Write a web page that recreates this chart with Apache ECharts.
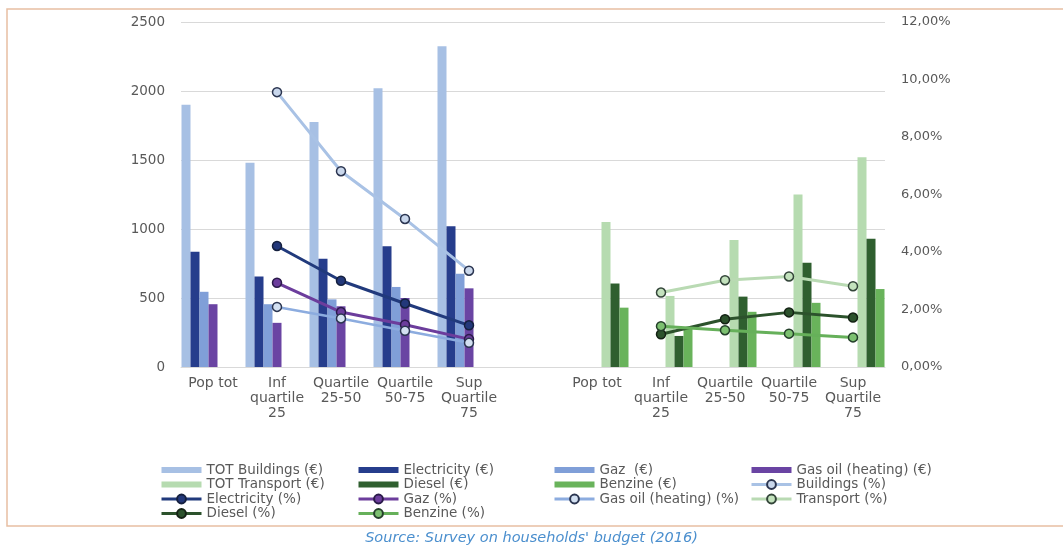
<!DOCTYPE html>
<html>
<head>
<meta charset="utf-8">
<script src="https://cdn.jsdelivr.net/npm/echarts@6/dist/echarts.min.js"></script>
<style>
html,body{margin:0;padding:0;background:#fff;}
#chart{width:1063px;height:551px;}
</style>
</head>
<body>
<div id="chart"></div>
<script>
// ---- Data ----
const groupLabels = ['Pop tot', 'Inf\nquartile\n25', 'Quartile\n25-50', 'Quartile\n50-75', 'Sup\nQuartile\n75'];
const leftTicks = [0, 500, 1000, 1500, 2000, 2500];
const rightTicks = ['0,00%', '2,00%', '4,00%', '6,00%', '8,00%', '10,00%', '12,00%'];

// Buildings group (€)
const totBuildings = [1900, 1480, 1775, 2020, 2325];
const electricityEur = [835, 655, 785, 875, 1020];
const gazEur = [545, 455, 490, 580, 675];
const gasOilEur = [455, 320, 440, 500, 570];
// Transport group (€)
const totTransport = [1050, 515, 920, 1250, 1520];
const dieselEur = [605, 225, 510, 755, 930];
const benzineEur = [430, 280, 400, 465, 565];
// Buildings group (%)
const buildingsPct = [null, 9.56, 6.81, 5.15, 3.35];
const electricityPct = [null, 4.21, 3.00, 2.21, 1.45];
const gazPct = [null, 2.93, 1.91, 1.47, 0.97];
const gasOilPct = [null, 2.09, 1.69, 1.26, 0.84];
// Transport group (%)
const transportPct = [null, 2.59, 3.02, 3.15, 2.81];
const dieselPct = [null, 1.14, 1.66, 1.90, 1.72];
const benzinePct = [null, 1.42, 1.28, 1.16, 1.03];

// ---- Build category axis: buildings group, empty gap, transport group ----
const categories = groupLabels.concat([''], groupLabels);
const gapNulls = [null, null, null, null, null, null];
const left = arr => arr.concat(gapNulls);
const right = arr => gapNulls.concat(arr);

const FONT = 'DejaVu Sans';
const TXT = '#595959';

function bar(name, data, color) {
  return { name, type: 'bar', data, barWidth: 9, barGap: '0%', itemStyle: { color }, z: 2 };
}
function line(name, data, color, fill, border, width) {
  return {
    name, type: 'line', yAxisIndex: 1, data, z: 5,
    symbol: 'circle', symbolSize: 9,
    lineStyle: { color, width },
    itemStyle: { color: fill, borderColor: border, borderWidth: 1.5 }
  };
}

const series = [
  bar('TOT Buildings (€)', left(totBuildings), '#a7c0e4'),
  bar('Electricity (€)', left(electricityEur), '#263d8c'),
  bar('Gaz  (€)', left(gazEur), '#809fd8'),
  bar('Gas oil (heating) (€)', left(gasOilEur), '#6a44a3'),
  bar('TOT Transport (€)', right(totTransport), '#b6dbb0'),
  bar('Diesel (€)', right(dieselEur), '#2f5f2f'),
  bar('Benzine (€)', right(benzineEur), '#69b35b'),
  line('Buildings (%)', left(buildingsPct), '#a9c2e5', '#c9d7ec', '#2b3550', 3),
  line('Electricity (%)', left(electricityPct), '#213a7c', '#23387a', '#15203f', 3),
  line('Gaz (%)', left(gazPct), '#6c3d9c', '#6c3d9c', '#2a1a4a', 3),
  line('Gas oil (heating) (%)', left(gasOilPct), '#8cacdf', '#d3e0f1', '#2b3550', 2.5),
  line('Transport (%)', right(transportPct), '#b9dab3', '#c3e2bd', '#34463a', 3),
  line('Diesel (%)', right(dieselPct), '#2c522c', '#2c522c', '#142214', 3),
  line('Benzine (%)', right(benzinePct), '#66b05a', '#7cc070', '#24402a', 3)
];

const barIcon = 'path://M0,0h40v6h-40z';
function legendCol(leftPx, items) {
  return {
    orient: 'vertical', left: leftPx, top: 463, itemGap: 0.5, padding: 0,
    itemWidth: 40, itemHeight: 11,
    lineStyle: { width: 3 },
    textStyle: { color: TXT, fontFamily: FONT, fontSize: 13.5, lineHeight: 14 },
    data: items.map(n => n.indexOf('(€)') >= 0 ? { name: n, icon: barIcon } : { name: n })
  };
}

const option = {
  animation: false,
  backgroundColor: '#fff',
  textStyle: { fontFamily: FONT },
  grid: { left: 181, right: 178, top: 22, bottom: 184 },
  xAxis: {
    type: 'category', data: categories,
    axisLine: { lineStyle: { color: '#d9d9d9' } },
    axisTick: { show: false },
    axisLabel: { color: TXT, fontFamily: FONT, fontSize: 14, lineHeight: 15, interval: 0, margin: 9 }
  },
  yAxis: [
    {
      type: 'value', min: 0, max: 2500, interval: 500,
      axisLine: { show: false }, axisTick: { show: false },
      axisLabel: { color: TXT, fontFamily: FONT, fontSize: 13.5, margin: 16,
        formatter: v => leftTicks.indexOf(v) >= 0 ? String(v) : '' },
      splitLine: { lineStyle: { color: '#d9d9d9' } }
    },
    {
      type: 'value', min: 0, max: 12, interval: 2,
      axisLine: { show: false }, axisTick: { show: false },
      axisLabel: { color: TXT, fontFamily: FONT, fontSize: 13, margin: 16,
        formatter: v => rightTicks[Math.round(v / 2)] },
      splitLine: { show: false }
    }
  ],
  legend: [
    legendCol(160, ['TOT Buildings (€)', 'TOT Transport (€)', 'Electricity (%)', 'Diesel (%)']),
    legendCol(357, ['Electricity (€)', 'Diesel (€)', 'Gaz (%)', 'Benzine (%)']),
    legendCol(553, ['Gaz  (€)', 'Benzine (€)', 'Gas oil (heating) (%)']),
    legendCol(750, ['Gas oil (heating) (€)', 'Buildings (%)', 'Transport (%)'])
  ],
  graphic: [
    { type: 'rect', z: -10, silent: true,
      shape: { x: 7, y: 9, width: 1070, height: 517 },
      style: { fill: 'none', stroke: '#e7bfa3', lineWidth: 1.5 } },
    { type: 'text', left: 'center', top: 531,
      style: { text: "Source: Survey on households' budget (2016)", fill: '#4b8fce',
        font: 'italic 14.5px "DejaVu Sans"' } }
  ],
  series
};

const chart = echarts.init(document.getElementById('chart'), null, { renderer: 'canvas' });
chart.setOption(option);
</script>
</body>
</html>
